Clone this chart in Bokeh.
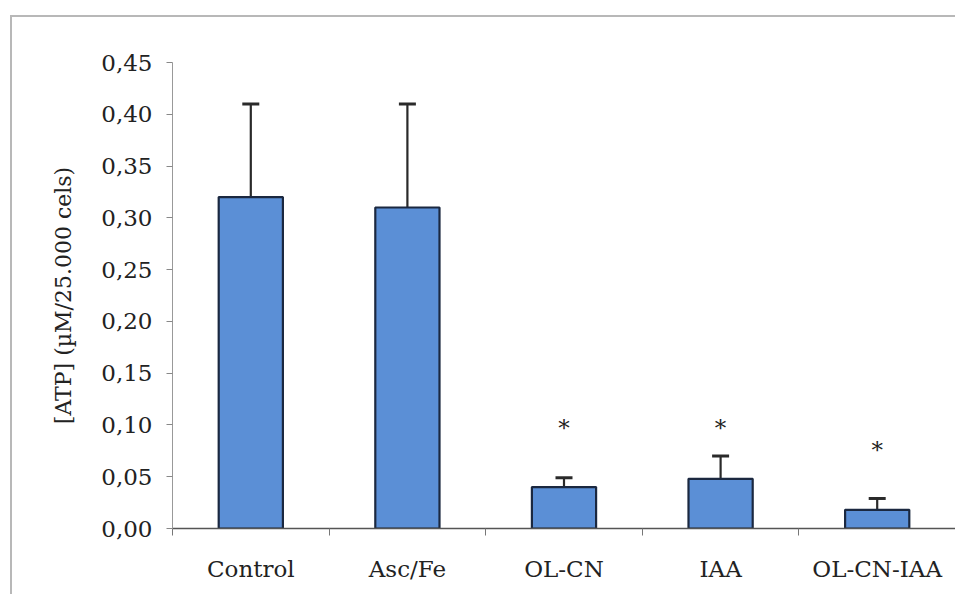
from bokeh.plotting import figure
from bokeh.models import (ColumnDataSource, FixedTicker, CustomJSTickFormatter,
                          Whisker, TeeHead, Range1d)
from bokeh.core.properties import value
from bokeh.embed import file_html
from bokeh.resources import INLINE

# ATP content per treatment (mean and mean + SD)
categories = ["Control", "Asc/Fe", "OL-CN", "IAA", "OL-CN-IAA"]
atp_mean = [0.32, 0.31, 0.04, 0.048, 0.018]
atp_upper = [0.41, 0.41, 0.049, 0.07, 0.029]
# significance marks and the height at which they sit
signif = ["", "", "*", "*", "*"]
signif_y = [0.0, 0.0, 0.097, 0.097, 0.076]
y_ticks = [0.0, 0.05, 0.10, 0.15, 0.20, 0.25, 0.30, 0.35, 0.40, 0.45]

FONT = "DejaVu Serif"
BAR_FILL = "#5b8fd6"
BAR_EDGE = "#1b2840"

xpos = [i + 0.5 for i in range(len(categories))]
src = ColumnDataSource(dict(x=xpos, top=atp_mean, upper=atp_upper,
                            mark=signif, mark_y=signif_y))

p = figure(width=945, height=579, output_backend="svg", toolbar_location=None,
           x_range=Range1d(0, len(categories)), y_range=Range1d(0, 0.45),
           min_border_left=160, min_border_right=2, min_border_top=45,
           min_border_bottom=68)
p.margin = (15, 0, 0, 10)
p.styles = {"border-top": "2px solid #b8b8b8", "border-left": "2px solid #b8b8b8"}
p.outline_line_color = None
p.xgrid.visible = False
p.ygrid.visible = False
p.background_fill_color = "white"
p.border_fill_color = "white"

p.vbar(x="x", top="top", width=0.41, bottom=0, source=src,
       fill_color=BAR_FILL, line_color=BAR_EDGE, line_width=2.2)

err = Whisker(base="x", lower="top", upper="upper", source=src,
              line_color="#2a2a2a", line_width=2.2,
              upper_head=TeeHead(size=17, line_color="#2a2a2a", line_width=3),
              lower_head=None)
p.add_layout(err)

p.text(x="x", y="mark_y", text="mark", source=src, text_align="center",
       text_baseline="middle", text_font=value(FONT), text_font_size="23px",
       text_color="#222222")

# x axis: labels at bar centres, ticks at category boundaries
labels = {x: c for x, c in zip(xpos, categories)}
p.xaxis.ticker = FixedTicker(ticks=xpos,
                             minor_ticks=list(range(len(categories) + 1)))
p.xaxis.major_label_overrides = labels
p.xaxis.major_tick_out = 0
p.xaxis.major_tick_in = 0
p.xaxis.minor_tick_out = 7
p.xaxis.minor_tick_in = 0
p.xaxis.minor_tick_line_color = "#777777"
p.xaxis.axis_line_color = "#555555"
p.xaxis.axis_line_width = 1.5
p.xaxis.major_label_standoff = 20
p.xaxis.major_label_text_font = FONT
p.xaxis.major_label_text_font_size = "23px"
p.xaxis.major_label_text_color = "#222222"

# y axis with comma decimal separator
p.yaxis.ticker = FixedTicker(ticks=y_ticks)
p.yaxis.formatter = CustomJSTickFormatter(
    code="return tick.toFixed(2).replace('.', ',');")
p.yaxis.minor_tick_line_color = None
p.yaxis.major_tick_out = 6
p.yaxis.major_tick_in = 0
p.yaxis.major_tick_line_color = "#888888"
p.yaxis.axis_line_color = "#999999"
p.yaxis.major_label_standoff = 14
p.yaxis.major_label_text_font = FONT
p.yaxis.major_label_text_font_size = "23px"
p.yaxis.major_label_text_color = "#222222"
p.yaxis.axis_label = "[ATP] (µM/25.000 cels)"
p.yaxis.axis_label_text_font = FONT
p.yaxis.axis_label_text_font_style = "normal"
p.yaxis.axis_label_text_font_size = "22px"
p.yaxis.axis_label_text_color = "#222222"
p.yaxis.axis_label_standoff = 22

open("out.html", "w").write(file_html(p, INLINE))
